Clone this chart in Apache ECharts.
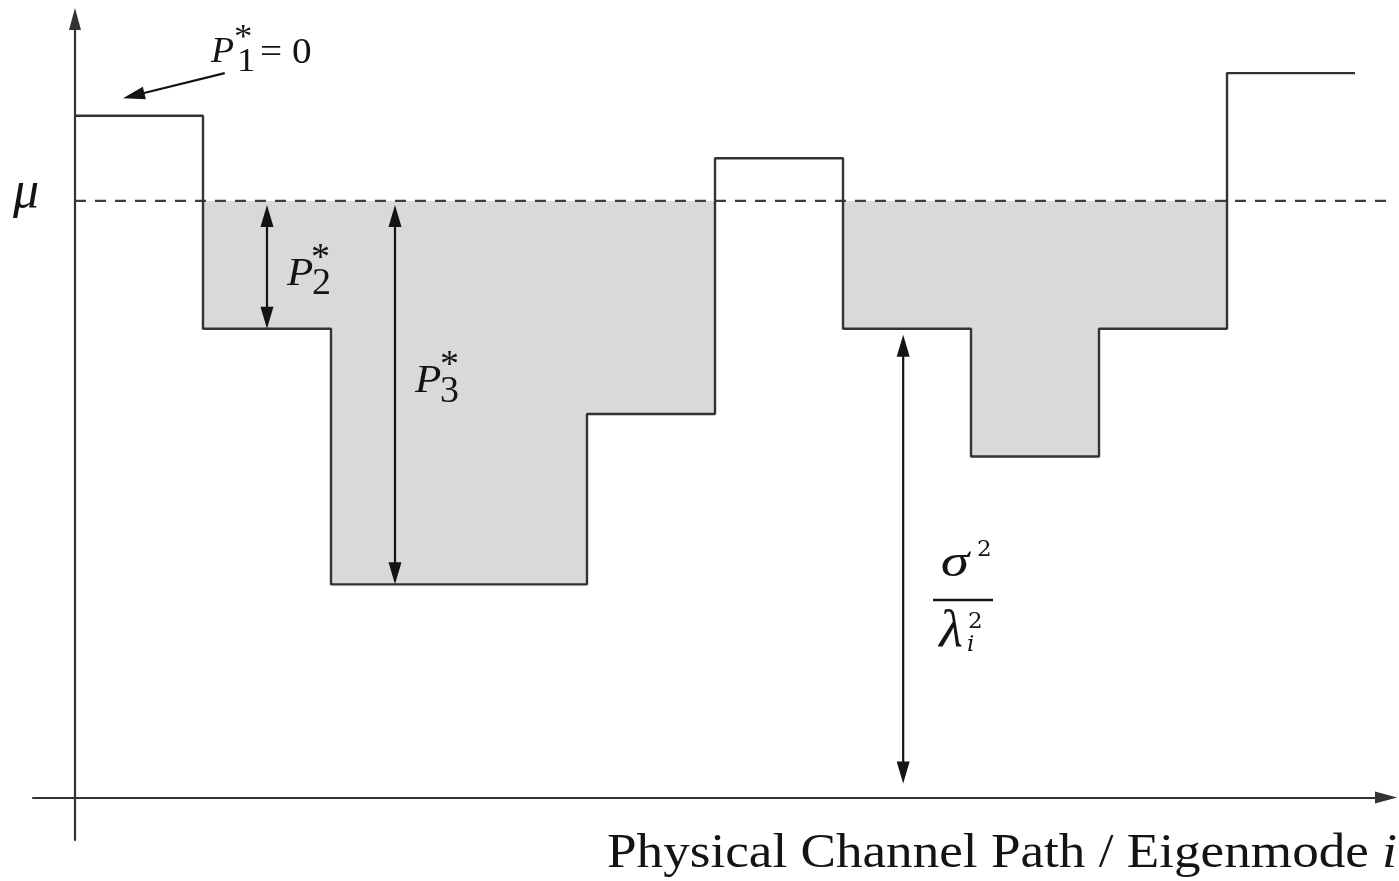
<!DOCTYPE html>
<html>
<head>
<meta charset="utf-8">
<script src="https://cdn.jsdelivr.net/npm/echarts@6/dist/echarts.min.js"></script>
<style>
  html, body { margin: 0; padding: 0; background: #ffffff; }
  #chart { width: 1399px; height: 881px; }
</style>
</head>
<body>
<div id="chart"></div>
<script>
// Eigenmode index i
const channels = [1, 2, 3, 4, 5, 6, 7, 8, 9, 10];
// Noise floor σ²/λᵢ² of each eigenmode
const floors = [16, 11, 5, 5, 9, 15, 11, 8, 11, 17];
// Water level μ
const waterLevel = 14;
// Allocated power P*_i = max(μ − σ²/λᵢ², 0)
const powers = floors.map(f => Math.max(waterLevel - f, 0));

const X_MIN = -0.328, X_MAX = 10.242;
const Y_MIN = -1.0, Y_MAX = 18.27;
const INK = '#141414';
const EDGE = '#333333';
const SERIF = '"Liberation Serif", "Times New Roman", serif';
const MATH = '"DejaVu Serif", "Liberation Serif", serif';

// Step outline: channel i spans [i-1, i]
const stepData = floors.map((f, k) => [k, f]).concat([[channels.length, floors[floors.length - 1]]]);

// Water poured above each floor: [left, right, floor, power]
const waterData = channels.map((c, k) => [c - 1, c, floors[k], powers[k]]);

// Arrows: [x1, y1, x2, y2, headAtStart, headAtEnd, insetStartPx, insetEndPx]
const arrowData = [
  [1.17, 17.0, 0.375, 16.41, 0, 1, 0, 0],
  [1.5, waterLevel, 1.5, floors[1], 1, 1, 4, 0],
  [2.5, waterLevel, 2.5, floors[2], 1, 1, 4, 0],
  [6.47, floors[6], 6.47, 0, 1, 1, 6, 14]
];

function renderWater(params, api) {
  const h = api.value(3);
  if (!(h > 0)) return null;
  const tl = api.coord([api.value(0), api.value(2) + h]);
  const br = api.coord([api.value(1), api.value(2)]);
  return {
    type: 'rect',
    shape: { x: tl[0], y: tl[1], width: br[0] - tl[0], height: br[1] - tl[1] },
    style: { fill: '#d9d9d9' }
  };
}

function renderArrow(params, api) {
  const a = api.coord([api.value(0), api.value(1)]);
  const b = api.coord([api.value(2), api.value(3)]);
  const dx = b[0] - a[0], dy = b[1] - a[1];
  const len = Math.hypot(dx, dy);
  const ux = dx / len, uy = dy / len;
  const p = [a[0] + ux * api.value(6), a[1] + uy * api.value(6)];
  const q = [b[0] - ux * api.value(7), b[1] - uy * api.value(7)];
  const HL = 22, HW = 6.5;
  const hs = api.value(4), he = api.value(5);
  const lp = hs ? [p[0] + ux * HL * 0.7, p[1] + uy * HL * 0.7] : p;
  const lq = he ? [q[0] - ux * HL * 0.7, q[1] - uy * HL * 0.7] : q;
  const children = [{
    type: 'line',
    shape: { x1: lp[0], y1: lp[1], x2: lq[0], y2: lq[1] },
    style: { stroke: INK, lineWidth: 2.2 }
  }];
  function head(tip, vx, vy) {
    const bx = tip[0] - vx * HL, by = tip[1] - vy * HL;
    return {
      type: 'polygon',
      shape: { points: [tip, [bx - vy * HW, by + vx * HW], [bx + vy * HW, by - vx * HW]] },
      style: { fill: INK }
    };
  }
  if (he) children.push(head(q, ux, uy));
  if (hs) children.push(head(p, -ux, -uy));
  return { type: 'group', children };
}

function txt(x, y, text, font, align, sx) {
  return {
    type: 'text', x, y, z: 50, scaleX: sx || 1,
    style: {
      text, font, fill: INK,
      align: align || 'left', verticalAlign: 'middle',
      textAlign: align || 'left', textVerticalAlign: 'middle'
    }
  };
}

const chart = echarts.init(document.getElementById('chart'), null, { renderer: 'canvas' });

chart.setOption({
  animation: false,
  backgroundColor: '#ffffff',
  grid: { left: 33, right: 13, top: 19, bottom: 41, containLabel: false },
  xAxis: {
    type: 'value', min: X_MIN, max: X_MAX,
    axisLine: {
      show: true, onZero: true,
      symbol: ['none', 'path://M0 0 L6 22 L-6 22 Z'], symbolSize: [13, 22],
      lineStyle: { color: EDGE, width: 2.2 }
    },
    axisTick: { show: false }, axisLabel: { show: false }, splitLine: { show: false }
  },
  yAxis: {
    type: 'value', min: Y_MIN, max: Y_MAX,
    axisLine: {
      show: true, onZero: true,
      symbol: ['none', 'path://M0 0 L6 22 L-6 22 Z'], symbolSize: [13, 22],
      lineStyle: { color: EDGE, width: 2.2 }
    },
    axisTick: { show: false }, axisLabel: { show: false }, splitLine: { show: false }
  },
  series: [
    {
      name: 'water', type: 'custom', z: 1,
      renderItem: renderWater,
      data: waterData, silent: true
    },
    {
      name: 'μ', type: 'line', z: 2,
      data: [[0, waterLevel], [X_MAX, waterLevel]],
      showSymbol: false, symbol: 'none', silent: true,
      lineStyle: { color: '#3c3c3c', width: 2.2, type: [11, 9] }
    },
    {
      name: 'floor', type: 'line', z: 3, step: 'end',
      data: stepData, showSymbol: false, symbol: 'none', silent: true,
      lineStyle: { color: EDGE, width: 2.4 }
    },
    {
      name: 'arrows', type: 'custom', z: 4,
      renderItem: renderArrow,
      data: arrowData, silent: true
    }
  ],
  graphic: [
    // μ
    txt(13, 193, 'μ', 'italic 52px ' + SERIF),
    // P1* = 0
    txt(211, 53, 'P', 'italic 35px ' + SERIF, 'left', 1.08),
    txt(237, 62, '1', '34px ' + SERIF, 'left', 1.08),
    txt(234, 38, '*', '34px ' + SERIF, 'left', 1.08),
    txt(260, 54, '= 0', '35px ' + SERIF, 'left', 1.12),
    // P2*
    txt(287, 274, 'P', 'italic 41px ' + SERIF, 'left', 1.05),
    txt(312, 284, '2', '38px ' + SERIF),
    txt(311, 259, '*', '38px ' + SERIF),
    // P3*
    txt(415, 381, 'P', 'italic 41px ' + SERIF, 'left', 1.05),
    txt(440, 392, '3', '38px ' + SERIF),
    txt(440, 366, '*', '38px ' + SERIF),
    // σ² / λᵢ²
    txt(955, 564, 'σ', 'italic 46px ' + SERIF, 'center', 1.25),
    txt(977, 550, '2', '23px ' + MATH),
    {
      type: 'line', z: 50,
      shape: { x1: 933, y1: 600, x2: 993, y2: 600 },
      style: { stroke: INK, lineWidth: 2.5 }
    },
    txt(951, 632, 'λ', 'italic 52px ' + SERIF, 'center', 1.05),
    txt(968, 622, '2', '23px ' + MATH),
    txt(967, 645, 'i', 'italic 23px ' + MATH),
    // axis title
    txt(607, 854, 'Physical Channel Path / Eigenmode', '49px ' + SERIF, 'left', 1.085),
    txt(1382, 854, 'i', 'italic 49px ' + SERIF, 'left', 1.1)
  ]
});
</script>
</body>
</html>
